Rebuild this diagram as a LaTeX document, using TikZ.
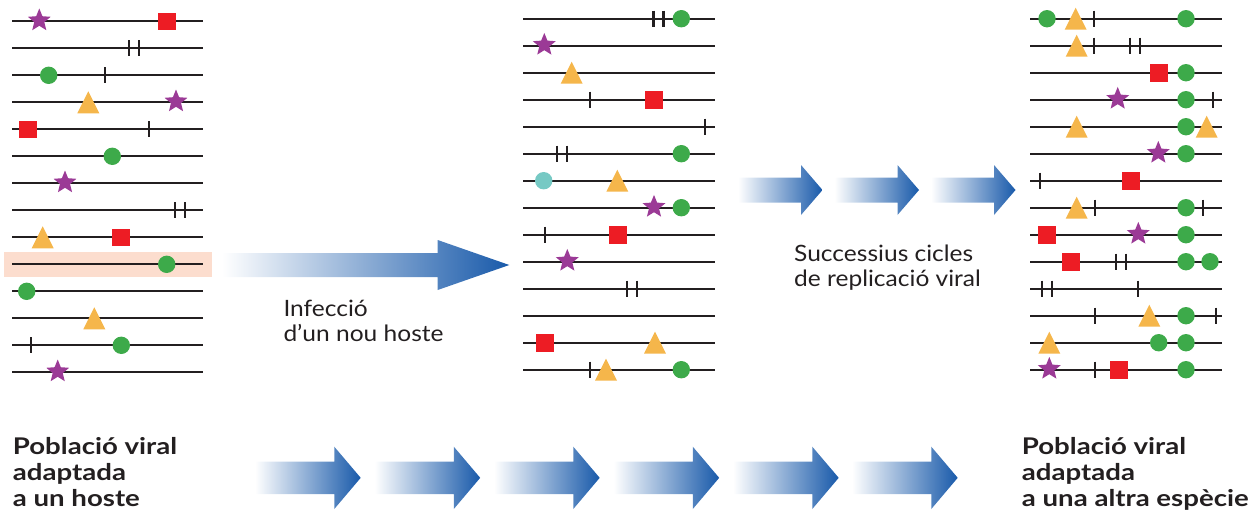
\documentclass[tikz,border=0pt]{standalone}
\usepackage{fontspec}
\setmainfont{Lato}
\newfontfamily\lblfont[FakeStretch=1.09]{Lato}
\newfontfamily\blblfont[FakeStretch=1.2]{Lato}
\definecolor{ink}{RGB}{35,31,32}
\definecolor{vred}{RGB}{237,28,36}
\definecolor{vgreen}{RGB}{61,170,74}
\definecolor{vorange}{RGB}{245,182,75}
\definecolor{vpurple}{RGB}{155,58,150}
\definecolor{vcyan}{RGB}{118,201,196}
\definecolor{vblue}{RGB}{25,90,170}
\definecolor{band}{RGB}{252,221,206}
\tikzset{
  strand/.style={draw=ink,line width=2.3pt},
  gshade/.style={left color=white,right color=vblue},
  lbl/.style={anchor=base west,inner sep=0pt,text=ink,font=\lblfont\fontsize{22.5}{26}\selectfont},
  blbl/.style={anchor=base west,inner sep=0pt,text=ink,font=\blblfont\fontsize{23}{26}\selectfont\bfseries},
  pics/tk/.style={code={\draw[ink,line width=2.2pt] (0,-8) -- (0,8);}},
  pics/dtk/.style={code={\draw[ink,line width=2.2pt] (-5,-8) -- (-5,8) (5,-8) -- (5,8);}},
  pics/sq/.style={code={\fill[vred] (-8.8,-8.8) rectangle (8.8,8.8);}},
  pics/dot/.style={code={\fill[vgreen] (0,0) circle[radius=8.7pt];}},
  pics/cdot/.style={code={\fill[vcyan] (0,0) circle[radius=8.7pt];}},
  pics/tri/.style={code={\fill[vorange] (-11,11) -- (11,11) -- (0,-11) -- cycle;}},
  pics/st/.style={code={\fill[vpurple] (0,-0.8)
      +(90:12pt) -- +(126:5.3pt) -- +(162:12pt) -- +(198:5.3pt) -- +(234:12pt) -- +(270:5.3pt)
      -- +(306:12pt) -- +(342:5.3pt) -- +(18:12pt) -- +(54:5.3pt) -- cycle;}},
}
\begin{document}
\begin{tikzpicture}[x=1pt,y=-1pt]
\useasboundingbox (0,0) rectangle (1258,515);

% highlight band
\fill[band] (4,252.3) rectangle (212,276.7);

% strands
\foreach \i in {0,...,13} {
  \draw[strand] (12,{21.3+27*\i}) -- (203,{21.3+27*\i});
  \draw[strand] (523.3,{18.7+27*\i}) -- (715,{18.7+27*\i});
  \draw[strand] (1030,{18.7+27*\i}) -- (1222,{18.7+27*\i});
}

% ---- left column (y = 21.3 + 27 i)
\foreach \x/\i in {105.3/2,148.7/4,31/12} \pic at (\x,{21.3+27*\i}) {tk};
\foreach \x/\i in {134.3/1,180/7} \pic at (\x,{21.3+27*\i}) {dtk};
\foreach \x/\i in {166.7/0,27.7/4,120.7/8} \pic at (\x,{21.3+27*\i}) {sq};
\foreach \x/\i in {48.7/2,112.3/5,166.7/9,26.7/10,121.3/12} \pic at (\x,{21.3+27*\i}) {dot};
\foreach \x/\i in {88.3/3,42.7/8,94.3/11} \pic at (\x,{21.3+27*\i}) {tri};
\foreach \x/\i in {39.3/0,176/3,65/6,57.7/13} \pic at (\x,{21.3+27*\i}) {st};

% ---- middle column (y = 18.7 + 27 i)
\foreach \x/\i in {590.3/3,705.3/4,544.7/8,590.3/13} \pic at (\x,{18.7+27*\i}) {tk};
\foreach \x/\i in {658.5/0,562.2/5,632/10} \pic at (\x,{18.7+27*\i}) {dtk};
\foreach \x/\i in {654/3,618/8,545/12} \pic at (\x,{18.7+27*\i}) {sq};
\foreach \x/\i in {681.3/0,681.3/5,681.3/7,681.3/13} \pic at (\x,{18.7+27*\i}) {dot};
\pic at (543.7,{18.7+27*6}) {cdot};
\foreach \x/\i in {571.7/2,617.3/6,655/12,606/13} \pic at (\x,{18.7+27*\i}) {tri};
\foreach \x/\i in {544.3/1,654/7,567.3/9} \pic at (\x,{18.7+27*\i}) {st};

% ---- right column (y = 18.7 + 27 i)
\foreach \x/\i in {1094.3/0,1094.3/1,1213.3/3,1040/6,1095/7,1203.3/7,1138.3/10,1094.7/11,1215.7/11,1094.7/13} \pic at (\x,{18.7+27*\i}) {tk};
\foreach \x/\i in {1135/1,1120.7/9,1046.7/10} \pic at (\x,{18.7+27*\i}) {dtk};
\foreach \x/\i in {1159/2,1131/6,1047/8,1071/9,1119/13} \pic at (\x,{18.7+27*\i}) {sq};
\foreach \x/\i in {1047/0,1186/0,1186/2,1186/3,1186/4,1186/5,1186/7,1186/8,1186/9,1210/9,1186/11,1158.7/12,1186/12,1186/13} \pic at (\x,{18.7+27*\i}) {dot};
\foreach \x/\i in {1075.7/0,1076.7/1,1076.7/4,1206.7/4,1076.7/7,1149.3/11,1049.3/12} \pic at (\x,{18.7+27*\i}) {tri};
\foreach \x/\i in {1117.7/3,1158.3/5,1138.3/8,1049.3/13} \pic at (\x,{18.7+27*\i}) {st};

% ---- arrows
\shade[gshade] (222,253) -- (437.7,253) -- (437.7,240) -- (509.3,265) -- (437.7,290) -- (437.7,277) -- (222,277) -- cycle;
\foreach \s in {738,834.5,931}
  \shade[gshade] (\s,177.7) -- ({\s+63},177.7) -- ({\s+63},165) -- ({\s+84.5},190) -- ({\s+63},215) -- ({\s+63},202.7) -- (\s,202.7) -- cycle;
\foreach \s in {255,374.5,494,613.5,733,852}
  \shade[gshade] (\s,461.7) -- ({\s+79.3},461.7) -- ({\s+79.3},446.7) -- ({\s+105.7},477.8) -- ({\s+79.3},509) -- ({\s+79.3},494) -- (\s,494) -- cycle;

% ---- labels
\node[lbl] (inf1) at (283.3,316.7) {Infecció};
\node[lbl] (inf2) at (283.3,341.7) {d’un nou hoste};
\node[lbl] (suc1) at (794,261) {Successius cicles};
\node[lbl] (suc2) at (794,286.7) {de replicació viral};
\node[blbl] (pa1) at (12.7,454.3) {Població viral};
\node[blbl] (pa2) at (12.7,480.3) {adaptada};
\node[blbl] (pa3) at (12.7,506.7) {a un hoste};
\node[blbl] (pb1) at (1021.7,454.3) {Població viral};
\node[blbl] (pb2) at (1021.7,480.3) {adaptada};
\node[blbl] (pb3) at (1021.7,506.7) {a una altra espècie};
\end{tikzpicture}
\end{document}
